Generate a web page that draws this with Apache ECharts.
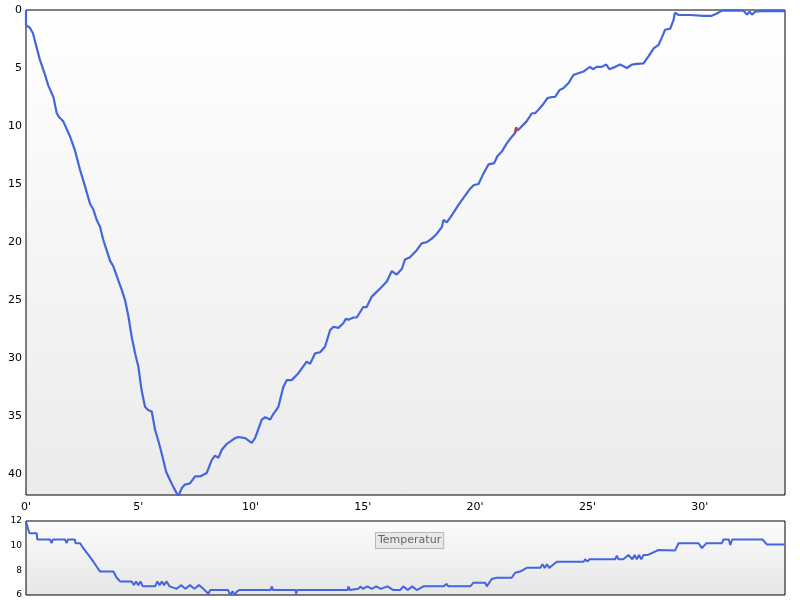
<!DOCTYPE html>
<html>
<head>
<meta charset="utf-8">
<script src="https://cdn.jsdelivr.net/npm/echarts@6/dist/echarts.min.js"></script>
<style>html,body{margin:0;padding:0;background:#fff}#c{width:800px;height:600px}</style>
</head>
<body>
<div id="c"></div>
<script>
// Depth profile: time (minutes) and depth (m)
var depthTime = [0,0.0,0.18,0.31,0.47,0.62,0.85,0.99,1.22,1.37,1.48,1.66,1.96,2.18,2.41,2.63,2.85,3.0,3.15,3.30,3.44,3.59,3.74,3.89,4.11,4.26,4.41,4.56,4.71,4.86,5.0,5.15,5.30,5.45,5.6,5.75,5.89,6.04,6.24,6.41,6.56,6.78,6.94,7.08,7.3,7.53,7.75,8.05,8.27,8.42,8.57,8.72,8.94,9.09,9.31,9.46,9.76,10.05,10.2,10.5,10.65,10.87,11.02,11.24,11.46,11.61,11.83,12.13,12.5,12.65,12.87,13.1,13.32,13.54,13.69,13.91,14.13,14.25,14.36,14.58,14.73,15.02,15.17,15.4,15.77,16.07,16.29,16.51,16.74,16.88,17.1,17.4,17.63,17.85,18.07,18.29,18.52,18.59,18.74,18.96,19.26,19.48,19.78,19.93,20.15,20.37,20.6,20.85,20.99,21.19,21.41,21.56,21.78,21.83,21.88,22.14,22.29,22.53,22.67,22.82,23.04,23.22,23.42,23.56,23.76,23.93,24.16,24.38,24.53,24.83,24.97,25.12,25.24,25.42,25.64,25.84,25.98,26.24,26.46,26.76,26.98,27.2,27.5,27.72,27.95,28.17,28.31,28.46,28.69,28.83,28.9,29.06,29.13,29.58,30.17,30.54,30.77,30.99,31.95,32.1,32.22,32.33,32.47,32.7,33.8];
var depthVal  = [0,1.3,1.55,2.0,3.2,4.3,5.6,6.5,7.5,8.9,9.25,9.6,10.9,12.1,13.8,15.2,16.7,17.2,18.1,18.7,19.8,20.7,21.6,22.1,23.3,24.1,25.0,26.4,28.2,29.6,30.7,32.8,34.2,34.5,34.6,36.2,37.1,38.2,39.8,40.5,41.1,41.9,41.2,40.9,40.8,40.2,40.2,39.9,38.8,38.4,38.6,37.9,37.4,37.2,36.9,36.8,36.9,37.3,36.9,35.3,35.1,35.3,34.8,34.2,32.5,31.9,31.9,31.3,30.3,30.5,29.6,29.5,29.0,27.6,27.3,27.4,27.0,26.6,26.7,26.5,26.5,25.6,25.6,24.7,24.0,23.4,22.5,22.8,22.3,21.5,21.3,20.7,20.1,20.0,19.7,19.3,18.7,18.1,18.3,17.7,16.8,16.2,15.4,15.1,15.0,14.1,13.3,13.2,12.6,12.2,11.5,11.1,10.6,10.1,10.4,9.9,9.6,8.9,8.9,8.6,8.1,7.6,7.5,7.5,6.9,6.75,6.3,5.6,5.5,5.3,5.1,4.9,5.1,4.9,4.9,4.7,5.1,4.9,4.7,5.0,4.7,4.65,4.6,4.0,3.3,3.0,2.4,1.7,1.6,0.9,0.23,0.43,0.3,0.43,0.5,0.5,0.3,0.05,0.05,0.4,0.15,0.4,0.15,0.1,0.1];
// Ascent-warning segment (red)
var warnTime = [21.78,21.83];
var warnVal  = [10.6,10.1];
// Temperature (°C)
var tempTime = [0,0.15,0.48,0.5,1.07,1.14,1.2,1.74,1.81,1.87,2.18,2.2,2.41,2.55,2.78,3.0,3.3,3.89,4.04,4.19,4.71,4.8,4.9,5.0,5.1,5.2,5.75,5.85,5.95,6.05,6.15,6.25,6.4,6.71,6.9,7.1,7.3,7.5,7.7,7.9,8.12,8.2,9.0,9.1,9.2,9.3,9.4,9.5,10.9,10.94,11.0,12.0,12.03,12.07,14.32,14.36,14.42,14.8,14.9,15.0,15.2,15.4,15.6,15.8,16.1,16.36,16.66,16.8,17.0,17.2,17.4,17.7,18.59,18.74,18.8,19.78,19.93,20.45,20.52,20.74,20.96,21.63,21.78,22.0,22.3,22.9,23.0,23.1,23.2,23.3,23.5,23.64,24.83,24.9,25.0,25.1,25.35,26.24,26.31,26.38,26.6,26.83,27.0,27.1,27.2,27.3,27.4,27.5,27.7,28.17,28.9,29.06,29.95,30.1,30.3,30.99,31.06,31.3,31.36,31.45,31.58,32.8,32.99,33.8];
var tempVal  = [11.95,11.0,11.0,10.5,10.5,10.2,10.5,10.5,10.2,10.5,10.5,10.2,10.2,9.8,9.25,8.7,7.9,7.9,7.4,7.1,7.1,6.8,7.1,6.8,7.1,6.7,6.7,7.1,6.8,7.1,6.8,7.1,6.7,6.5,6.8,6.5,6.8,6.5,6.8,6.5,6.1,6.4,6.4,6.0,6.3,6.0,6.3,6.4,6.4,6.7,6.4,6.4,6.1,6.4,6.4,6.7,6.4,6.5,6.7,6.5,6.7,6.5,6.7,6.5,6.7,6.4,6.4,6.7,6.4,6.7,6.4,6.7,6.7,6.9,6.7,6.7,7.0,7.0,6.7,7.3,7.4,7.4,7.8,7.9,8.2,8.2,8.5,8.2,8.5,8.2,8.5,8.7,8.7,8.9,8.7,8.9,8.9,8.9,9.2,8.9,8.9,9.25,8.9,9.25,8.9,9.25,8.9,9.25,9.25,9.65,9.6,10.2,10.2,9.8,10.2,10.2,10.5,10.5,10.05,10.5,10.5,10.5,10.1,10.1];
var timeTicks = [0,5,10,15,20,25,30];
var depthTicks = [0,5,10,15,20,25,30,35,40];

function pairs(xs, ys){ return xs.map(function(x,i){ return [x, ys[i]]; }); }

var chart = echarts.init(document.getElementById('c'));
var FONT = 'DejaVu Sans';
chart.setOption({
  animation: false,
  backgroundColor: '#ffffff',
  grid: [
    {left: 26, right: 15, top: 10, height: 485, show: true, borderColor: '#000', borderWidth: 1,
     backgroundColor: {type:'linear', x:0, y:0, x2:0, y2:1, colorStops:[{offset:0,color:'#ffffff'},{offset:1,color:'#ebebeb'}]}},
    {left: 26, right: 15, top: 521, height: 74, show: true, borderColor: '#000', borderWidth: 1,
     backgroundColor: {type:'linear', x:0, y:0, x2:0, y2:1, colorStops:[{offset:0,color:'#fcfcfc'},{offset:1,color:'#e6e6e6'}]}}
  ],
  xAxis: [
    {type:'value', gridIndex:0, min:0, max:33.8, interval:5,
     axisLine:{show:false}, axisTick:{show:false}, splitLine:{show:false},
     axisLabel:{color:'#000', fontFamily:FONT, fontSize:11, margin:7, showMaxLabel:false,
       formatter:function(v){ return timeTicks.indexOf(v) >= 0 ? v + "'" : ''; }}},
    {type:'value', gridIndex:1, min:0, max:33.8, interval:5,
     axisLine:{show:false}, axisTick:{show:false}, splitLine:{show:false}, axisLabel:{show:false}}
  ],
  yAxis: [
    {type:'value', gridIndex:0, inverse:true, min:0, max:41.8, interval:5,
     axisLine:{show:false}, axisTick:{show:false}, splitLine:{show:false},
     axisLabel:{color:'#000', fontFamily:FONT, fontSize:11, margin:4, showMaxLabel:false,
       formatter:function(v){ return depthTicks.indexOf(v) >= 0 ? String(v) : ''; }}},
    {type:'value', gridIndex:1, min:6, max:12, interval:2,
     axisLine:{show:false}, axisTick:{show:false}, splitLine:{show:false},
     axisLabel:{color:'#000', fontFamily:FONT, fontSize:9, margin:4}}
  ],
  graphic: [{
    type:'text', left: 375, top: 532,
    style:{text:'Temperatur', fill:'#666', font:'11px "DejaVu Sans"',
      backgroundColor:'#e8e8e8', borderColor:'#b8b8b8', borderWidth:1, padding:[2,2,2,2]}
  }],
  series: [
    {type:'line', xAxisIndex:0, yAxisIndex:0, data: pairs(depthTime, depthVal), showSymbol:false,
     lineStyle:{color:'#4466dd', width:2.2}},
    {type:'line', xAxisIndex:0, yAxisIndex:0, data: pairs(warnTime, warnVal), showSymbol:false,
     lineStyle:{color:'#d04020', width:2.2}},
    {type:'line', xAxisIndex:1, yAxisIndex:1, data: pairs(tempTime, tempVal), showSymbol:false,
     lineStyle:{color:'#4466dd', width:2}}
  ]
});
</script>
</body>
</html>
